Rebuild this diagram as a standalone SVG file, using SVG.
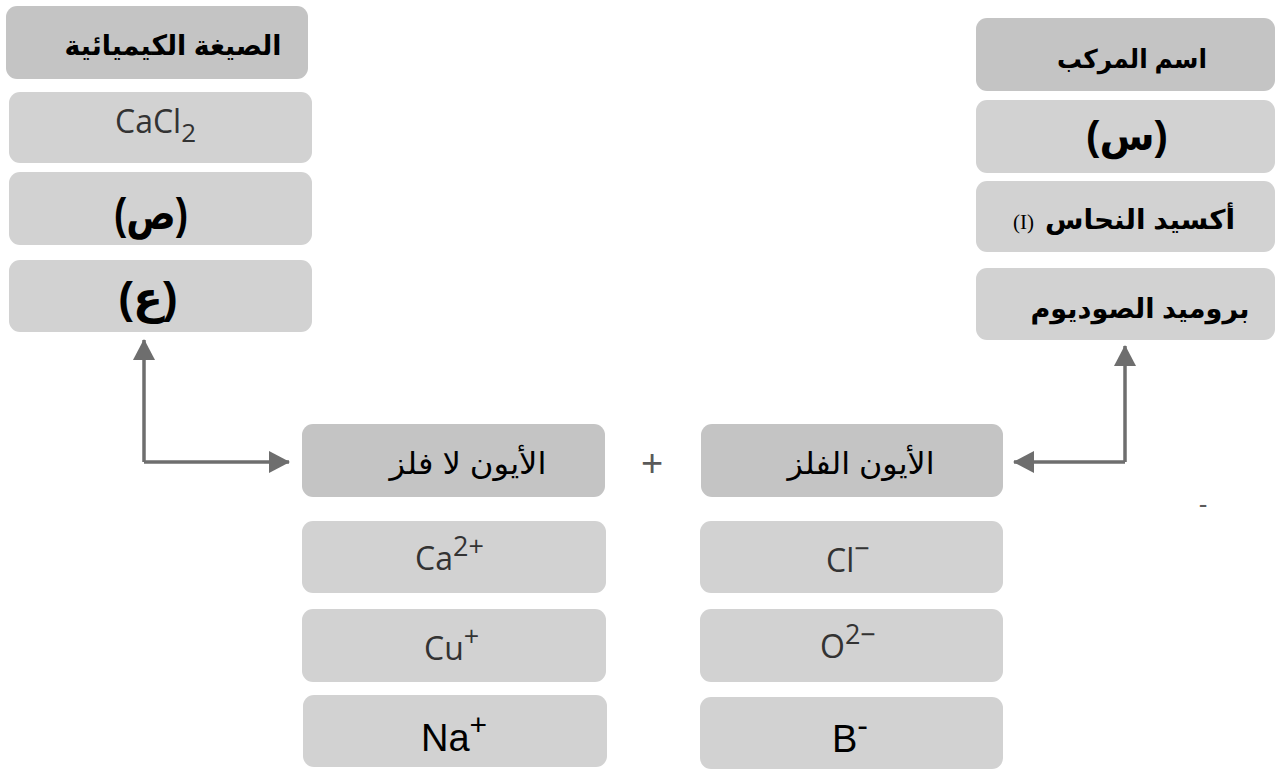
<svg xmlns="http://www.w3.org/2000/svg" width="1282" height="771" viewBox="0 0 1282 771">
<style>
.hd{fill:#c4c4c4}
.bx{fill:#d2d2d2}
.ar{font-family:"Liberation Sans","DejaVu Sans",sans-serif;fill:#000;text-anchor:middle}
.b{font-weight:bold}
.f{font-family:"Open Sans","Liberation Sans",sans-serif;fill:#333;font-size:32px}
.big{font-family:"Liberation Sans",sans-serif;fill:#000;font-size:38px}
.ln{fill:none;stroke:#6e6e6e;stroke-width:3.5}
.sg{font-family:"Liberation Sans",sans-serif;fill:#5a5a5a;text-anchor:middle}
</style>
<defs>
<marker id="ah" viewBox="0 0 21 22" refX="20" refY="11" markerWidth="21" markerHeight="22" markerUnits="userSpaceOnUse" orient="auto">
<path d="M0,0 L21,11 L0,22 z" fill="#6e6e6e"/>
</marker>
</defs>
<rect width="1282" height="771" fill="#fff"/>

<g id="formula-col">
<rect class="hd" x="6" y="6" width="302" height="73" rx="11"/>
<text class="ar b" x="173" y="55" font-size="28" textLength="217" lengthAdjust="spacingAndGlyphs">الصيغة الكيميائية</text>
<rect class="bx" x="9" y="92" width="303" height="71" rx="11"/>
<text class="f" x="115" y="133">CaCl<tspan font-size="26" dy="9">2</tspan></text>
<rect class="bx" x="9" y="172" width="303" height="73" rx="11"/>
<text class="ar b" x="151" y="229" font-size="44" textLength="74" lengthAdjust="spacingAndGlyphs">(ص)</text>
<rect class="bx" x="9" y="260" width="303" height="72" rx="11"/>
<text class="ar b" x="148" y="313" font-size="44">(ع)</text>
</g>

<g id="name-col">
<rect class="hd" x="976" y="18" width="299" height="73" rx="11"/>
<text class="ar b" x="1132" y="68" font-size="26" textLength="150" lengthAdjust="spacingAndGlyphs">اسم المركب</text>
<rect class="bx" x="976" y="100" width="299" height="73" rx="11"/>
<text class="ar b" x="1127" y="150" font-size="40">(س)</text>
<rect class="bx" x="976" y="181" width="299" height="71" rx="11"/>
<text class="ar b" x="1140" y="229" font-size="27" textLength="190" lengthAdjust="spacingAndGlyphs">أكسيد النحاس</text>
<text x="1013" y="229" font-family="Liberation Serif,serif" font-size="21" fill="#000">(I)</text>
<rect class="bx" x="976" y="268" width="299" height="72" rx="11"/>
<text class="ar b" x="1140" y="318" font-size="27" textLength="219" lengthAdjust="spacingAndGlyphs">بروميد الصوديوم</text>
</g>

<g id="nonmetal-col">
<rect class="hd" x="302" y="424" width="303" height="73" rx="11"/>
<text class="ar" x="468" y="474" font-size="30" textLength="157" lengthAdjust="spacingAndGlyphs">الأيون لا فلز</text>
<rect class="bx" x="302" y="521" width="304" height="72" rx="11"/>
<text class="f" x="415" y="570">Ca<tspan font-size="27" dy="-14">2+</tspan></text>
<rect class="bx" x="302" y="609" width="304" height="73" rx="11"/>
<text class="f" x="424" y="660">Cu<tspan font-size="27" dy="-14">+</tspan></text>
<rect class="bx" x="303" y="695" width="304" height="72" rx="11"/>
<text class="big" x="421" y="751">Na<tspan font-size="30" dy="-16">+</tspan></text>
</g>

<g id="metal-col">
<rect class="hd" x="701" y="424" width="302" height="73" rx="11"/>
<text class="ar" x="861" y="474" font-size="30" textLength="147" lengthAdjust="spacingAndGlyphs">الأيون الفلز</text>
<rect class="bx" x="700" y="521" width="303" height="72" rx="11"/>
<text class="f" x="826" y="572">Cl<tspan font-size="27" dy="-14">−</tspan></text>
<rect class="bx" x="700" y="609" width="303" height="73" rx="11"/>
<text class="f" x="820" y="658">O<tspan font-size="27" dy="-14">2−</tspan></text>
<rect class="bx" x="700" y="697" width="303" height="72" rx="11"/>
<text class="big" x="832" y="752">B<tspan font-size="32" dy="-16">-</tspan></text>
</g>

<g id="signs">
<text class="sg" x="652" y="476" font-size="38">+</text>
<text class="sg" x="1203" y="513" font-size="26">-</text>
</g>

<g id="connectors">
<path class="ln" d="M144,462 L144,340" marker-end="url(#ah)"/>
<path class="ln" d="M144,462 L289,462" marker-end="url(#ah)"/>
<path class="ln" d="M1125,462 L1125,346" marker-end="url(#ah)"/>
<path class="ln" d="M1125,462 L1014,462" marker-end="url(#ah)"/>
</g>
</svg>
